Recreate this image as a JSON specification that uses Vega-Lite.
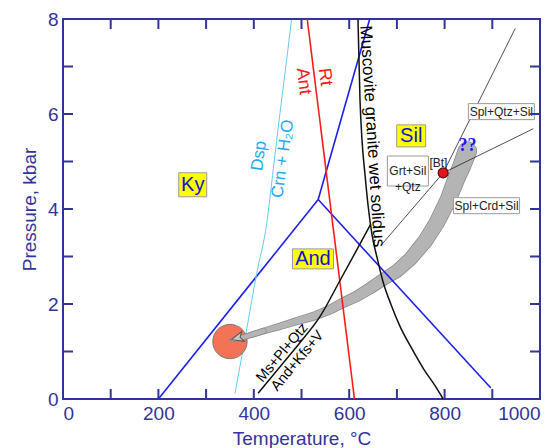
{
  "$schema": "https://vega.github.io/schema/vega-lite/v6.json",
  "width": 477,
  "height": 380,
  "autosize": {"type": "none"},
  "padding": {"left": 63, "top": 19, "right": 20, "bottom": 49},
  "background": "white",
  "config": {
    "font": "Liberation Sans",
    "view": {"stroke": "#333399", "strokeWidth": 2},
    "axis": {
      "grid": false, "domain": false, "ticks": false,
      "labelPadding": 5, "labelColor": "#333399", "labelFontSize": 19, "labelFont": "Liberation Sans",
      "titleColor": "#333399", "titleFontSize": 19, "titleFontWeight": "normal", "titleFont": "Liberation Sans"
    }
  },
  "datasets": {
    "curves": [
      {"c": "kyand", "o": 0, "T": 200, "P": 0}, {"c": "kyand", "o": 1, "T": 535, "P": 4.2},
      {"c": "andsil", "o": 0, "T": 535, "P": 4.2}, {"c": "andsil", "o": 1, "T": 897, "P": 0.23},
      {"c": "kysil", "o": 0, "T": 535, "P": 4.2}, {"c": "kysil", "o": 1, "T": 643, "P": 8},
      {"c": "rt", "o": 0, "T": 512, "P": 8}, {"c": "rt", "o": 1, "T": 611, "P": 0},
      {"c": "dsp", "o": 0, "T": 360.6, "P": 0.12}, {"c": "dsp", "o": 1, "T": 383, "P": 1.35},
      {"c": "dsp", "o": 2, "T": 406, "P": 2.64}, {"c": "dsp", "o": 3, "T": 427, "P": 3.69},
      {"c": "dsp", "o": 4, "T": 441, "P": 4.85}, {"c": "dsp", "o": 5, "T": 455, "P": 6.03},
      {"c": "dsp", "o": 6, "T": 469, "P": 7.15}, {"c": "dsp", "o": 7, "T": 479, "P": 7.98},
      {"c": "sol", "o": 0, "T": 618.4, "P": 7.99}, {"c": "sol", "o": 1, "T": 622.6, "P": 6.31},
      {"c": "sol", "o": 2, "T": 626.8, "P": 5.46}, {"c": "sol", "o": 3, "T": 633.1, "P": 4.73},
      {"c": "sol", "o": 4, "T": 639.4, "P": 4.09}, {"c": "sol", "o": 5, "T": 647.8, "P": 3.46},
      {"c": "sol", "o": 6, "T": 658.3, "P": 2.98}, {"c": "sol", "o": 7, "T": 670.9, "P": 2.47},
      {"c": "sol", "o": 8, "T": 687.6, "P": 1.99}, {"c": "sol", "o": 9, "T": 706.5, "P": 1.53},
      {"c": "sol", "o": 10, "T": 729.6, "P": 1.09}, {"c": "sol", "o": 11, "T": 756.8, "P": 0.62},
      {"c": "sol", "o": 12, "T": 779.9, "P": 0.28}, {"c": "sol", "o": 13, "T": 797, "P": 0},
      {"c": "ms", "o": 0, "T": 409, "P": 0.12}, {"c": "ms", "o": 1, "T": 455, "P": 0.68},
      {"c": "ms", "o": 2, "T": 497, "P": 1.19}, {"c": "ms", "o": 3, "T": 539, "P": 1.74},
      {"c": "ms", "o": 4, "T": 581, "P": 2.5}, {"c": "ms", "o": 5, "T": 617, "P": 3.16},
      {"c": "ms", "o": 6, "T": 645, "P": 3.68},
      {"c": "bt1", "o": 0, "T": 668, "P": 3.25}, {"c": "bt1", "o": 1, "T": 797, "P": 4.76},
      {"c": "bt2", "o": 0, "T": 797, "P": 4.76}, {"c": "bt2", "o": 1, "T": 948, "P": 7.8},
      {"c": "bt3", "o": 0, "T": 797, "P": 4.76}, {"c": "bt3", "o": 1, "T": 986, "P": 5.69}
    ],
    "ticks": [
      {"s": "b", "T": 100, "P": 0}, {"s": "b", "T": 200, "P": 0}, {"s": "b", "T": 300, "P": 0},
      {"s": "b", "T": 400, "P": 0}, {"s": "b", "T": 500, "P": 0}, {"s": "b", "T": 600, "P": 0},
      {"s": "b", "T": 700, "P": 0}, {"s": "b", "T": 800, "P": 0}, {"s": "b", "T": 900, "P": 0},
      {"s": "t", "T": 100, "P": 8}, {"s": "t", "T": 200, "P": 8}, {"s": "t", "T": 300, "P": 8},
      {"s": "t", "T": 400, "P": 8}, {"s": "t", "T": 500, "P": 8}, {"s": "t", "T": 600, "P": 8},
      {"s": "t", "T": 700, "P": 8}, {"s": "t", "T": 800, "P": 8}, {"s": "t", "T": 900, "P": 8},
      {"s": "l", "T": 0, "P": 1}, {"s": "l", "T": 0, "P": 2}, {"s": "l", "T": 0, "P": 3}, {"s": "l", "T": 0, "P": 4},
      {"s": "l", "T": 0, "P": 5}, {"s": "l", "T": 0, "P": 6}, {"s": "l", "T": 0, "P": 7},
      {"s": "r", "T": 1000, "P": 1}, {"s": "r", "T": 1000, "P": 2}, {"s": "r", "T": 1000, "P": 3}, {"s": "r", "T": 1000, "P": 4},
      {"s": "r", "T": 1000, "P": 5}, {"s": "r", "T": 1000, "P": 6}, {"s": "r", "T": 1000, "P": 7}
    ],
    "band": [
      {"step": 0, "T": 847.6, "P": 5.22}, {"step": 1, "T": 835.8, "P": 4.9},
      {"step": 2, "T": 823.9, "P": 4.62}, {"step": 3, "T": 807.8, "P": 4.2},
      {"step": 4, "T": 783.4, "P": 3.71}, {"step": 5, "T": 758.9, "P": 3.32},
      {"step": 6, "T": 727.5, "P": 2.94}, {"step": 7, "T": 699.5, "P": 2.69},
      {"step": 8, "T": 671.5, "P": 2.52}, {"step": 9, "T": 643.6, "P": 2.33},
      {"step": 10, "T": 615.7, "P": 2.16}, {"step": 11, "T": 587.6, "P": 2.03},
      {"step": 12, "T": 559.7, "P": 1.88}, {"step": 13, "T": 524.7, "P": 1.74},
      {"step": 14, "T": 489.9, "P": 1.64}, {"step": 15, "T": 454.9, "P": 1.53},
      {"step": 16, "T": 419.9, "P": 1.43}, {"step": 17, "T": 385.1, "P": 1.32},
      {"step": 18, "T": 355, "P": 1.25}
    ],
    "boxes": [
      {"id": "Ky", "kind": "min", "label": "Ky", "T": 272, "P": 4.51},
      {"id": "And", "kind": "min", "label": "And", "T": 524, "P": 2.95},
      {"id": "Sil", "kind": "min", "label": "Sil", "T": 730, "P": 5.54},
      {"id": "Grt", "kind": "rx", "label": "Grt+Sil\n+Qtz", "T": 723, "P": 4.8},
      {"id": "SQS", "kind": "rx", "label": "Spl+Qtz+Sil", "T": 919, "P": 6.05},
      {"id": "SCS", "kind": "rx", "label": "Spl+Crd+Sil", "T": 888, "P": 4.07}
    ]
  },
  "resolve": {"scale": {"size": "independent", "shape": "independent"}},
  "encoding": {
    "x": {"field": "T", "type": "quantitative", "scale": {"domain": [0, 1000], "nice": false},
          "axis": {"title": "Temperature, °C", "values": [0, 200, 400, 600, 800, 1000], "format": "d", "titlePadding": 6}},
    "y": {"field": "P", "type": "quantitative", "scale": {"domain": [0, 8], "nice": false},
          "axis": {"title": "Pressure, kbar", "values": [0, 2, 4, 6, 8], "format": "d", "titlePadding": 8}}
  },
  "layer": [
    {"data": {"name": "band"}, "mark": {"type": "trail", "color": "#8a8a8a"},
     "encoding": {"order": {"field": "step"}, "size": {"field": "step", "type": "quantitative", "scale": {"domain": [0, 18], "range": [19.5, 5]}, "legend": null}}},
    {"data": {"name": "band"}, "mark": {"type": "trail", "color": "#b4b4b4"},
     "encoding": {"order": {"field": "step"}, "size": {"field": "step", "type": "quantitative", "scale": {"domain": [0, 18], "range": [18, 3.5]}, "legend": null}}},
    {"data": {"name": "curves"}, "transform": [{"filter": "indexof(['kyand','andsil','kysil'], datum.c) >= 0"}],
     "mark": {"type": "line", "color": "#1f1fef", "strokeWidth": 1.6},
     "encoding": {"detail": {"field": "c"}, "order": {"field": "o"}}},
    {"data": {"name": "curves"}, "transform": [{"filter": "datum.c == 'rt'"}],
     "mark": {"type": "line", "color": "#ff1a1a", "strokeWidth": 1.6},
     "encoding": {"order": {"field": "o"}}},
    {"data": {"name": "curves"}, "transform": [{"filter": "datum.c == 'dsp'"}],
     "mark": {"type": "line", "color": "#66ccf2", "strokeWidth": 1, "interpolate": "monotone"},
     "encoding": {"order": {"field": "o"}}},
    {"data": {"name": "curves"}, "transform": [{"filter": "datum.c == 'sol' || datum.c == 'ms'"}],
     "mark": {"type": "line", "color": "#111111", "strokeWidth": 1.5, "interpolate": "monotone"},
     "encoding": {"detail": {"field": "c"}, "order": {"field": "o"}}},
    {"data": {"name": "curves"}, "transform": [{"filter": "indexof(['bt1','bt2','bt3'], datum.c) >= 0"}],
     "mark": {"type": "line", "color": "#222222", "strokeWidth": 0.8},
     "encoding": {"detail": {"field": "c"}, "order": {"field": "o"}}},
    {"data": {"name": "boxes"},
     "mark": {"type": "point", "filled": true, "size": 4, "stroke": "#9a9a9a", "strokeWidth": 1, "opacity": 1},
     "encoding": {
       "shape": {"field": "id", "type": "nominal", "legend": null,
                 "scale": {"domain": ["Ky", "And", "Sil", "Grt", "SQS", "SCS"],
                           "range": ["M-14,-12H14V12H-14Z", "M-20.5,-10H20.5V10H-20.5Z", "M-14.5,-11H14.5V11H-14.5Z",
                                     "M-20.5,-15H20.5V15H-20.5Z", "M-33,-8H33V8H-33Z", "M-33,-8H33V8H-33Z"]}},
       "fill": {"field": "kind", "type": "nominal", "legend": null, "scale": {"domain": ["min", "rx"], "range": ["#ffff00", "#ffffff"]}}
     }},
    {"data": {"name": "boxes"}, "transform": [{"filter": "datum.kind == 'min'"}],
     "mark": {"type": "text", "fontSize": 20, "color": "#1414d2", "align": "center", "baseline": "middle"},
     "encoding": {"text": {"field": "label"}}},
    {"data": {"name": "boxes"}, "transform": [{"filter": "datum.kind == 'rx'"}],
     "mark": {"type": "text", "fontSize": 12, "color": "#222222", "align": "center", "baseline": "middle", "lineBreak": "\n", "lineHeight": 16},
     "encoding": {"text": {"field": "label"}}},
    {"data": {"values": [{"label": "[Bt]", "T": 787, "P": 4.97}]},
     "mark": {"type": "text", "fontSize": 12, "color": "#222222", "align": "center", "baseline": "middle"},
     "encoding": {"text": {"field": "label"}}},
    {"data": {"values": [{"label": "??", "T": 848, "P": 5.33}]},
     "mark": {"type": "text", "fontSize": 18, "font": "Liberation Serif", "fontWeight": "bold", "color": "#1a1aff", "align": "center", "baseline": "middle"},
     "encoding": {"text": {"field": "label"}}},
    {"data": {"values": [{"label": "Muscovite granite wet solidus", "T": 648, "P": 5.53}]},
     "mark": {"type": "text", "fontSize": 17, "angle": 86.5, "color": "#000000", "align": "center", "baseline": "middle"},
     "encoding": {"text": {"field": "label"}}},
    {"data": {"values": [{"label": "Rt", "T": 549, "P": 6.78}, {"label": "Ant", "T": 504, "P": 6.69}]},
     "mark": {"type": "text", "fontSize": 18, "angle": 83, "color": "#ff1a1a", "align": "center", "baseline": "middle"},
     "encoding": {"text": {"field": "label"}}},
    {"data": {"values": [{"label": "Dsp", "T": 411, "P": 5.12}, {"label": "Crn + H₂O", "T": 461, "P": 5.06}]},
     "mark": {"type": "text", "fontSize": 17, "angle": 278, "color": "#22aaee", "align": "center", "baseline": "middle"},
     "encoding": {"text": {"field": "label"}}},
    {"data": {"values": [{"label": "Ms+Pl+Qtz", "T": 460, "P": 0.97}, {"label": "And+Kfs+V", "T": 492, "P": 0.8}]},
     "mark": {"type": "text", "fontSize": 14.5, "angle": 310, "color": "#000000", "align": "center", "baseline": "middle"},
     "encoding": {"text": {"field": "label"}}},
    {"data": {"values": [{"T": 350, "P": 1.21}]},
     "mark": {"type": "point", "shape": "circle", "filled": true, "size": 1180, "fill": "#f27356", "stroke": "#7a7a7a", "strokeWidth": 1, "opacity": 1}},
    {"data": {"name": "band"}, "transform": [{"filter": "datum.step >= 16"}], "mark": {"type": "trail", "color": "#8a8a8a"},
     "encoding": {"order": {"field": "step"}, "size": {"field": "step", "type": "quantitative", "scale": {"domain": [0, 18], "range": [19.5, 5]}, "legend": null}}},
    {"data": {"name": "band"}, "transform": [{"filter": "datum.step >= 16"}], "mark": {"type": "trail", "color": "#b4b4b4"},
     "encoding": {"order": {"field": "step"}, "size": {"field": "step", "type": "quantitative", "scale": {"domain": [0, 18], "range": [18, 3.5]}, "legend": null}}},
    {"data": {"values": [{"T": 353, "P": 1.25}]},
     "mark": {"type": "point", "shape": "M0,0L12,-5L9,0L12,5Z", "size": 4, "angle": 345, "filled": true, "fill": "#c8c8c8", "stroke": "#555555", "strokeWidth": 1, "opacity": 1}},
    {"data": {"values": [{"T": 797, "P": 4.76}]},
     "mark": {"type": "point", "shape": "circle", "filled": true, "size": 100, "fill": "#e8141c", "stroke": "#4d1010", "strokeWidth": 1.2, "opacity": 1}},
    {"data": {"name": "ticks"},
     "mark": {"type": "point", "filled": false, "size": 4, "color": "#333399", "stroke": "#333399", "strokeWidth": 2, "opacity": 1},
     "encoding": {"shape": {"field": "s", "type": "nominal", "legend": null,
                            "scale": {"domain": ["b", "t", "l", "r"], "range": ["M0,0V-10", "M0,0V10", "M0,0H10", "M0,0H-10"]}}}}
  ]
}
